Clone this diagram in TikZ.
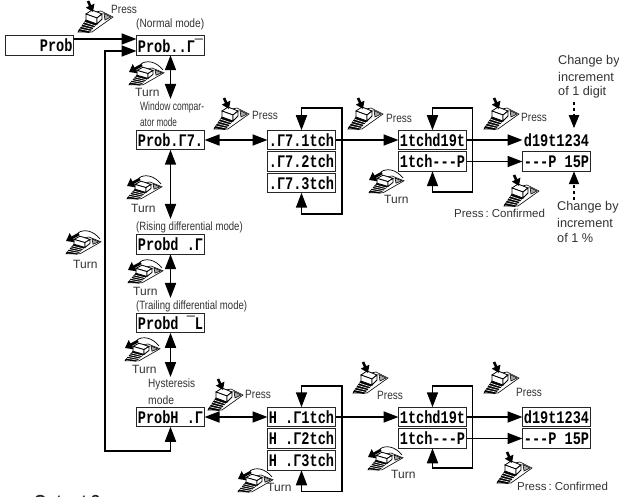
\documentclass[tikz,border=0pt]{standalone}
\usepackage{fontspec}
\usepackage{graphicx}
\setmainfont{Liberation Sans}
\newfontfamily\dispfont{Liberation Mono}[BoldFont={Liberation Mono Bold}]
\usetikzlibrary{arrows.meta}
\newcommand{\disptext}[2][c]{\makebox[66pt][#1]{\scalebox{1}[1.3]{\dispfont\bfseries\fontsize{13.6}{14}\selectfont #2}}}
\newcommand{\nx}[2]{\scalebox{#1}[1]{#2}}
\newcommand{\prs}{\nx{.84}{Press}}
\newcommand{\pedalshape}{%
  \draw[fill=white,line width=.6pt] (0,31) -- (8,19) -- (13,12) -- (23,10) -- (35,16) -- (14,31) -- cycle;
  \fill[black] (0,30) -- (8,19) -- (19,23) -- (11,32) -- cycle;
  \foreach \t in {0.2,0.4,0.6,0.8}{
    \draw[white,line width=.6pt] (8-8*\t,19+11*\t) -- (19-8*\t,23+9*\t);}
  \draw[fill=white,line width=.8pt] (8,13) -- (14,9) -- (24,13) -- (19,17) -- cycle;
  \draw[fill=white,line width=.8pt] (8,13) -- (19,17) -- (19,23) -- (8,19) -- cycle;
  \draw[fill=white,line width=.8pt] (19,17) -- (24,13) -- (24,18) -- (19,23) -- cycle;
  \draw[line width=.6pt,fill=black!35] (26,12.5) -- (33,16) -- (27,19) -- cycle;
}
\tikzset{
  x=1pt,y=-1pt,
  dispbox/.style={draw=black!85,line width=.8pt,fill=white,minimum width=68pt,minimum height=19.5pt,inner sep=0pt,outer sep=0pt},
  lab/.style={anchor=west,inner sep=0pt,text=black!80,font=\fontsize{12}{14}\selectfont},
  big/.style={lab,font=\fontsize{12.7}{14}\selectfont},
  conf/.style={lab,font=\fontsize{11.5}{14}\selectfont},
  arr/.style={line width=1.7pt,-{Triangle[length=15pt,width=11pt]}},
  dbl/.style={line width=1.7pt,{Triangle[length=15pt,width=11pt]}-{Triangle[length=15pt,width=11pt]}},
  dots/.style={line width=2pt,dash pattern=on 3pt off 3pt,-{Triangle[length=13pt,width=10pt]}},
  pressicon/.pic={
    \begin{scope}
      \pedalshape
      \draw[line width=2.6pt,-{Triangle[length=7pt,width=9pt]}] (10,0) -- (15,11);
    \end{scope}
  },
  turnicon/.pic={
    \begin{scope}[yscale=.8,shift={(1,0)}]
      \pedalshape
    \end{scope}
    \draw[line width=.7pt] (13,4) .. controls (18,0) and (28,1) .. (35,10);
    \draw[line width=2.8pt,-{Triangle[length=7pt,width=10pt]}] (14,5) -- (1,12);
  },
}
\begin{document}
\begin{tikzpicture}
\useasboundingbox (0,0) rectangle (619,497);
\clip (0,0) rectangle (619,497);
\fill[white] (0,0) rectangle (619,497);

% display nodes
\node[dispbox] (prob) at (39.5,45.5) {\disptext[r]{Prob}};
\node[dispbox] (pn) at (170.5,45.5) {\disptext{Prob..Γ¯}};
\node[dispbox] (pw) at (170.5,140) {\disptext{Prob.Γ7.}};
\node[dispbox] (pr) at (170.5,244.5) {\disptext{Probd~.Γ}};
\node[dispbox] (pt) at (170.5,323) {\disptext{Probd~¯L}};
\node[dispbox] (ph) at (170.5,417) {\disptext{ProbH~.Γ}};

\node[dispbox] (wa) at (301.5,140) {\disptext{.Γ7.1tch}};
\node[dispbox] (wb) at (301.5,161.5) {\disptext{.Γ7.2tch}};
\node[dispbox] (wc) at (301.5,183) {\disptext{.Γ7.3tch}};
\node[dispbox] (ha) at (301.5,417) {\disptext{H~.Γ1tch}};
\node[dispbox] (hb) at (301.5,438.5) {\disptext{H~.Γ2tch}};
\node[dispbox] (hc) at (301.5,460.5) {\disptext{H~.Γ3tch}};

\node[dispbox] (ma) at (432.5,140) {\disptext{1tchd19t}};
\node[dispbox] (mb) at (432.5,161.5) {\disptext{1tch---P}};
\node[dispbox] (na) at (432.5,417) {\disptext{1tchd19t}};
\node[dispbox] (nb) at (432.5,438.5) {\disptext{1tch---P}};

\node[dispbox,draw=none] (ra) at (556.5,140) {\disptext{d19t1234}};
\node[dispbox] (rb) at (556.5,161.5) {\disptext{---P~15P}};
\node[dispbox] (sa) at (556.5,417) {\disptext{d19t1234}};
\node[dispbox] (sb) at (556.5,438.5) {\disptext{---P~15P}};

% free ends and corners
\coordinate (retb) at (105,451);
\coordinate (rett) at (105,51);
\coordinate (v1) at (170.5,99);
\coordinate (v2) at (170.5,219);
\coordinate (v3) at (170.5,298);
\coordinate (v4) at (170.5,377);
\coordinate (wt) at (342,108);
\coordinate (wb2) at (342,214);
\coordinate (mt) at (472.5,108);
\coordinate (mb2) at (472.5,192);
\coordinate (ht) at (342,386);
\coordinate (hb2) at (342,491.5);
\coordinate (nt) at (472.5,386);
\coordinate (nb2) at (472.5,468);
\coordinate (dt) at (574,102);
\coordinate (db) at (574,200);

% connectors
\draw[arr] ([yshift=6.5pt]prob.east) -- ([yshift=6.5pt]pn.west);
\draw[dbl] (ph.south) |- (retb) -- (rett) -- ([yshift=-5.5pt]pn.west);
\draw[dbl] (pn.south) -- (v1);
\draw[dbl] (pw.south) -- (v2);
\draw[dbl] (pr.south) -- (v3);
\draw[dbl] (pt.south) -- (v4);
\draw[dbl] (pw.east) -- (wa.west);
\draw[dbl] (ph.east) -- (ha.west);
\draw[arr] (wa.east) -- (ma.west);
\draw[arr] (ha.east) -- (na.west);
\draw[arr] (ma.east) -- (ra.west);
\draw[arr] (mb.east) -- (rb.west);
\draw[arr] (na.east) -- (sa.west);
\draw[arr] (nb.east) -- (sb.west);
\draw[dbl] (wa.north) |- (wt) -- (wb2) -| (wc.south);
\draw[dbl] (ma.north) |- (mt) -- (mb2) -| (mb.south);
\draw[dbl] (ha.north) |- (ht) -- (hb2) -| (hc.south);
\draw[dbl] (na.north) |- (nt) -- (nb2) -| (nb.south);
\draw[dots] (dt) -- ([xshift=17.5pt,yshift=2pt]ra.north);
\draw[dots] (db) -- ([xshift=17.5pt]rb.south);

% pedal icons
\pic at (78,1) {pressicon};
\pic at (214,98) {pressicon};
\pic at (348,98) {pressicon};
\pic at (484,98) {pressicon};
\pic at (504,175) {pressicon};
\pic at (208,379) {pressicon};
\pic at (353,362) {pressicon};
\pic at (484,362) {pressicon};
\pic at (497,452) {pressicon};
\pic at (128,60) {turnicon};
\pic at (65,229) {turnicon};
\pic at (126,174) {turnicon};
\pic at (127,258) {turnicon};
\pic at (124,336) {turnicon};
\pic at (368,168) {turnicon};
\pic at (237,467) {turnicon};
\pic at (367,445) {turnicon};

% labels
\node[lab] (t1) at (111,9) {\prs};
\node[lab] (t2) at (136,24) {\nx{.85}{(Normal mode)}};
\node[lab] (t3) at (135,92) {Turn};
\node[lab] (t4) at (140,107) {\nx{.71}{Window compar-}};
\node[lab] (t5) at (140,122) {\nx{.68}{ator mode}};
\node[lab] (t6) at (252,115) {\prs};
\node[lab] (t7) at (386,118) {\prs};
\node[lab] (t8) at (521,117) {\prs};
\node[conf] (t9) at (454,213) {Press\,:\ Confirmed};
\node[lab] (t10) at (384,199) {Turn};
\node[big] (t11) at (558,61) {Change by};
\node[big] (t12) at (558,77) {increment};
\node[big] (t13) at (558,92) {of 1 digit};
\node[big] (t14) at (557,207) {Change by};
\node[big] (t15) at (557,223) {increment};
\node[big] (t16) at (557,238) {of 1 \%};
\node[lab] (t17) at (73,264) {Turn};
\node[lab] (t18) at (131,208) {Turn};
\node[lab] (t19) at (136,227) {\nx{.80}{(Rising differential mode)}};
\node[lab] (t20) at (133,291) {Turn};
\node[lab] (t21) at (136,306) {\nx{.80}{(Trailing differential mode)}};
\node[lab] (t22) at (132,369) {Turn};
\node[lab] (t23) at (148,384) {\nx{.84}{Hysteresis}};
\node[lab] (t24) at (148,400) {\nx{.86}{mode}};
\node[lab] (t25) at (245,394) {\prs};
\node[lab] (t26) at (377,395) {\prs};
\node[lab] (t27) at (516,392) {\prs};
\node[conf] (t28) at (517,486) {Press\,:\ Confirmed};
\node[lab] (t29) at (391,474) {Turn};
\node[lab] (t30) at (267,487) {Turn};
\node[anchor=base west,inner sep=0pt,text=black!85,font=\fontsize{16}{18}\selectfont\bfseries] (t31) at (34,506) {Output 2};
\end{tikzpicture}
\end{document}
